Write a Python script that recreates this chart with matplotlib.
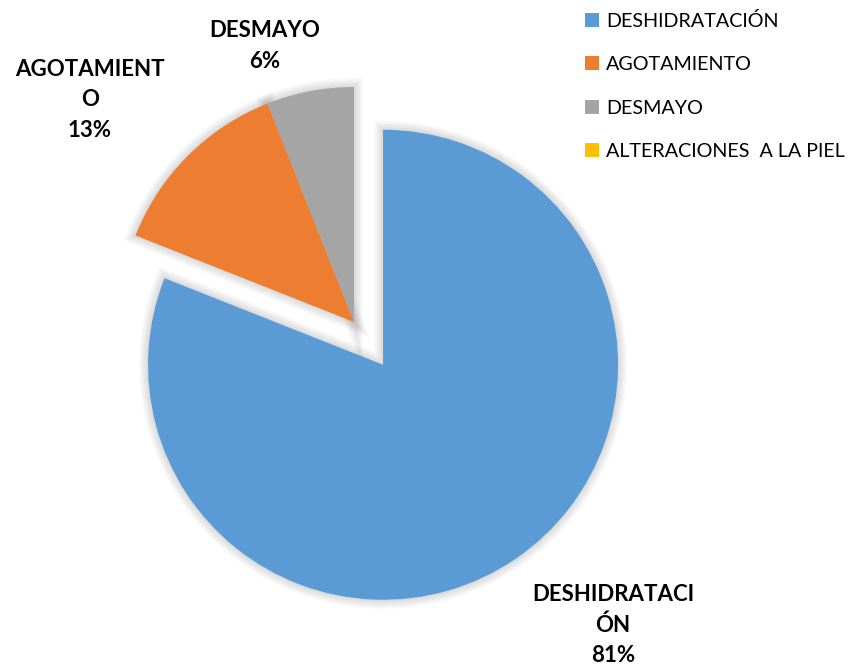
import matplotlib.pyplot as plt
from matplotlib.patches import Wedge

categorias = ['DESHIDRATACIÓN', 'AGOTAMIENTO', 'DESMAYO', 'ALTERACIONES  A LA PIEL']
etiquetas = ['DESHIDRATACI\nÓN\n81%', 'AGOTAMIENT\nO\n13%', 'DESMAYO\n6%', '']
valores = [81, 13, 6, 0]
colores = ['#5B9BD5', '#ED7D31', '#A5A5A5', '#FFC000']
separar = [0.22, 0, 0, 0]   # fraccion del radio

# posiciones de las etiquetas (pixeles, origen abajo-izquierda)
pos_etiquetas = [(613, 46), (90, 571), (265, 625), None]

plt.rcParams['font.family'] = ['Lato', 'DejaVu Sans']

fig = plt.figure(figsize=(8.6, 6.71), dpi=100)
ax = fig.add_axes([0, 0, 1, 1])

centro = (354, 349)
radio = 235

wedges, _ = ax.pie(valores, colors=colores, startangle=90, counterclock=False,
                   explode=[e * radio for e in separar], center=centro, radius=radio,
                   wedgeprops=dict(linewidth=0), frame=True)
ax.set_xlim(0, 860)
ax.set_ylim(0, 671)
ax.set_aspect('equal')
ax.axis('off')

# sombra suave
for w in wedges:
    if w.theta2 - w.theta1 < 0.01:
        continue
    for k in range(6):
        s = Wedge(w.center, w.r, w.theta1, w.theta2, facecolor='none',
                  edgecolor='black', linewidth=2 + 2.2 * k, alpha=0.025,
                  zorder=w.get_zorder() - 1)
        ax.add_patch(s)

for txt, pos in zip(etiquetas, pos_etiquetas):
    if pos is None:
        continue
    ax.text(pos[0], pos[1], txt, ha='center', va='center', fontsize=16,
            fontweight='bold', linespacing=1.55, color='black')

leg = ax.legend(wedges, categorias, loc='upper left', bbox_to_anchor=(0.667, 1.0),
                frameon=False, fontsize=14.2, handlelength=0.7, handleheight=0.7,
                handletextpad=0.35, labelspacing=1.34, borderaxespad=0.2)

fig.savefig('out.png', dpi=100, facecolor='white')
